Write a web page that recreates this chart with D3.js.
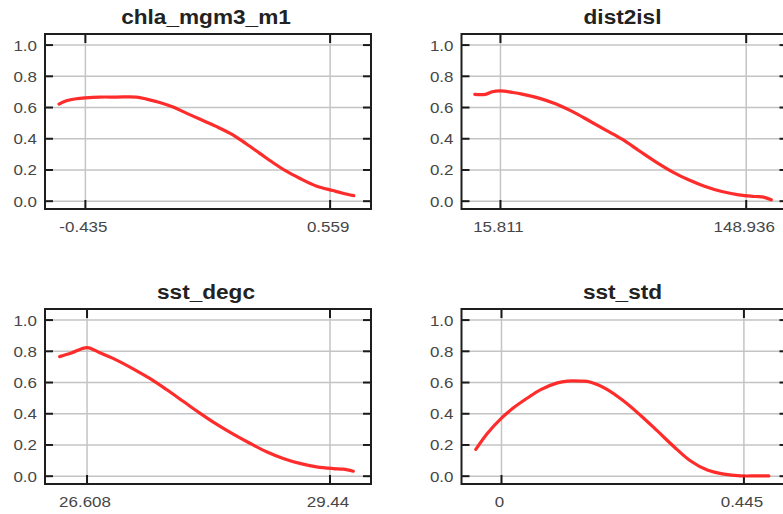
<!DOCTYPE html>
<html>
<head>
<meta charset="utf-8">
<script src="https://cdn.jsdelivr.net/npm/d3@7/dist/d3.min.js"></script>
<style>
  html, body { margin: 0; padding: 0; background: #fff; }
  svg { display: block; }
</style>
</head>
<body>
<svg id="chart" width="783" height="514"></svg>
<script>
// ---- data ----
const panelTitles = ["chla_mgm3_m1", "dist2isl", "sst_degc", "sst_std"];
const xTickValues = [[-0.435, 0.559], [15.811, 148.936], [26.608, 29.44], [0, 0.445]];
const xTickLabels = [["-0.435", "0.559"], ["15.811", "148.936"], ["26.608", "29.44"], ["0", "0.445"]];
const xExtents = [[-0.599, 0.725], [-5.29, 171.3], [26.118, 29.918], [-0.0734, 0.525]];
const yTickValues = [0, 0.2, 0.4, 0.6, 0.8, 1.0];

const chlaX = [-0.542, -0.512, -0.472, -0.435, -0.377, -0.309, -0.228, -0.187, -0.133, -0.079, -0.025, 0.029, 0.096, 0.164, 0.218, 0.272, 0.326, 0.381, 0.435, 0.502, 0.570, 0.610, 0.655];
const chlaY = [0.622, 0.643, 0.656, 0.662, 0.667, 0.667, 0.667, 0.654, 0.632, 0.603, 0.564, 0.526, 0.479, 0.425, 0.368, 0.308, 0.248, 0.192, 0.147, 0.098, 0.068, 0.051, 0.036];

const distX = [1.92, 7.69, 11.3, 15.81, 22.1, 27.5, 36.6, 45.6, 54.6, 63.6, 72.6, 81.7, 90.7, 99.7, 108.7, 117.7, 126.7, 135.7, 144.8, 153.8, 158.3, 162.5];
const distY = [0.684, 0.684, 0.701, 0.707, 0.697, 0.686, 0.660, 0.624, 0.575, 0.517, 0.457, 0.397, 0.325, 0.254, 0.190, 0.137, 0.094, 0.062, 0.041, 0.030, 0.026, 0.009];

const sstX = [26.289, 26.425, 26.608, 26.756, 26.911, 27.145, 27.339, 27.534, 27.728, 27.923, 28.117, 28.312, 28.506, 28.700, 28.895, 29.089, 29.284, 29.478, 29.595, 29.712];
const sstY = [0.766, 0.789, 0.824, 0.791, 0.755, 0.688, 0.626, 0.555, 0.480, 0.404, 0.333, 0.269, 0.211, 0.157, 0.114, 0.082, 0.060, 0.049, 0.045, 0.032];

const stdX = [-0.0471, -0.0257, 0, 0.0232, 0.0477, 0.0721, 0.1027, 0.121, 0.1455, 0.1638, 0.1944, 0.2249, 0.2555, 0.2861, 0.3166, 0.3472, 0.3778, 0.4083, 0.4389, 0.4694, 0.4908];
const stdY = [0.172, 0.275, 0.372, 0.441, 0.501, 0.555, 0.598, 0.609, 0.609, 0.602, 0.555, 0.480, 0.389, 0.290, 0.189, 0.097, 0.039, 0.013, 0.002, 0.002, 0.002];

const seriesX = [chlaX, distX, sstX, stdX];
const seriesY = [chlaY, distY, sstY, stdY];

// ---- layout ----
const colLeft = [45, 461.5];
const rowTop = [34, 309];
const boxW = 326, boxH = 175;
const tickLen = 8;
const yDomain = [-0.05, 1.071];

const svg = d3.select("#chart");

panelTitles.forEach((title, i) => {
  const col = i % 2, row = Math.floor(i / 2);
  const left = colLeft[col], top = rowTop[row];
  const x = d3.scaleLinear().domain(xExtents[i]).range([left, left + boxW]);
  const y = d3.scaleLinear().domain(yDomain).range([top + boxH, top]);
  const g = svg.append("g");

  // gridlines
  g.selectAll("line.hg").data(yTickValues).join("line")
    .attr("x1", left).attr("x2", left + boxW)
    .attr("y1", d => y(d)).attr("y2", d => y(d))
    .attr("stroke", "#c4c4c4").attr("stroke-width", 1.5);
  g.selectAll("line.vg").data(xTickValues[i]).join("line")
    .attr("y1", top).attr("y2", top + boxH)
    .attr("x1", d => x(d)).attr("x2", d => x(d))
    .attr("stroke", "#c4c4c4").attr("stroke-width", 1.5);

  // inward ticks: left/right for y, top/bottom for x
  const tickAttr = sel => sel.attr("stroke", "#1a1a1a").attr("stroke-width", 2);
  g.selectAll("line.yl").data(yTickValues).join("line")
    .attr("x1", left).attr("x2", left + tickLen)
    .attr("y1", d => y(d)).attr("y2", d => y(d)).call(tickAttr);
  g.selectAll("line.yr").data(yTickValues).join("line")
    .attr("x1", left + boxW - tickLen).attr("x2", left + boxW)
    .attr("y1", d => y(d)).attr("y2", d => y(d)).call(tickAttr);
  g.selectAll("line.xt").data(xTickValues[i]).join("line")
    .attr("x1", d => x(d)).attr("x2", d => x(d))
    .attr("y1", top).attr("y2", top + tickLen + 1).call(tickAttr);
  g.selectAll("line.xb").data(xTickValues[i]).join("line")
    .attr("x1", d => x(d)).attr("x2", d => x(d))
    .attr("y1", top + boxH - tickLen - 1).attr("y2", top + boxH).call(tickAttr);

  // curve
  const pts = seriesX[i].map((xv, k) => [xv, seriesY[i][k]]);
  g.append("path")
    .datum(pts)
    .attr("fill", "none")
    .attr("stroke", "#ff1a1a")
    .attr("stroke-opacity", 0.92)
    .attr("stroke-width", 3.2)
    .attr("stroke-linecap", "round")
    .attr("stroke-linejoin", "round")
    .attr("d", d3.line().x(d => x(d[0])).y(d => y(d[1])).curve(d3.curveCatmullRom.alpha(0.5)));

  // box
  g.append("rect")
    .attr("x", left).attr("y", top).attr("width", boxW).attr("height", boxH)
    .attr("fill", "none").attr("stroke", "#1e1e1e").attr("stroke-width", 2);

  // y labels
  g.selectAll("text.yl").data(yTickValues).join("text")
    .attr("transform", d => `translate(${left - 8},${y(d) + 5.5}) scale(1.13,1)`)
    .attr("text-anchor", "end")
    .attr("font-family", "Liberation Sans, Arial, sans-serif")
    .attr("font-size", 15)
    .attr("fill", "#464646")
    .text(d => d3.format(".1f")(d));

  // x labels
  g.selectAll("text.xl").data(xTickValues[i]).join("text")
    .attr("transform", (d, k) => `translate(${x(d) - 2},${top + boxH + 23}) scale(1.13,1)`)
    .attr("text-anchor", "middle")
    .attr("font-family", "Liberation Sans, Arial, sans-serif")
    .attr("font-size", 15)
    .attr("fill", "#464646")
    .text((d, k) => xTickLabels[i][k]);

  // title
  g.append("text")
    .attr("transform", `translate(${left + boxW / 2 - 2},${top - 10}) scale(1.16,1)`)
    .attr("text-anchor", "middle")
    .attr("font-family", "Liberation Sans, Arial, sans-serif")
    .attr("font-weight", "bold")
    .attr("font-size", 19.5)
    .attr("fill", "#222")
    .text(title);
});
</script>
</body>
</html>
